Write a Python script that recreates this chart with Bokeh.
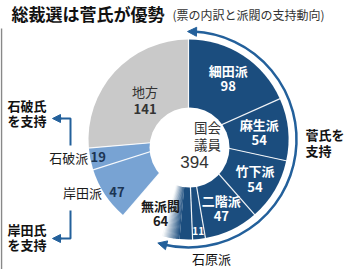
import math
from bokeh.plotting import figure
from bokeh.models import Range1d, Arrow, NormalHead
from bokeh.core.properties import value
from bokeh.embed import file_html
from bokeh.resources import INLINE

# ---------------- data ----------------
factions = ["細田派", "麻生派", "竹下派", "二階派", "石原派", "無派閥", "岸田派", "石破派", "地方"]
votes = [98, 54, 54, 47, 11, 64, 47, 19, 141]
support = ["菅", "菅", "菅", "菅", "菅", "無派閥", "岸田", "石破", "地方"]
center_label = ["国会", "議員"]
center_value = 394
title = "総裁選は菅氏が優勢"
subtitle = "(票の内訳と派閥の支持動向)"
suga_note = ["菅氏を", "支持"]
ishiba_note = ["石破氏", "を支持"]
kishida_note = ["岸田氏", "を支持"]
ishihara_note = "石原派"
mu_suga_share = 0.29   # estimated share of the 無派閥 slice shaded as Suga support

# ---------------- style / layout ----------------
W, H = 350, 269
CX, CY = 188, H - 139
R_OUT = 100
R_IN = 40
IN_CX, IN_CY = 189, H - 147
R_ARC = 108
DARK = "#1b4d7e"
LIGHT = "#78a3d3"
GRAY = "#c9c9c9"
ARROWC = "#23609b"
FONT = value("Noto Sans CJK JP")
color_of = {"菅": DARK, "無派閥": "#ffffff", "岸田": LIGHT, "石破": LIGHT, "地方": GRAY}

total = sum(votes)
spans = []
acc = 0.0
for v in votes:
    d = v / total * 360.0
    spans.append((acc, acc + d))
    acc += d


def pt(t, r, cx=CX, cy=CY):
    a = math.radians(t)
    return cx + r * math.sin(a), cy + r * math.cos(a)


def ang(t):
    return math.radians(90.0 - t)


p = figure(width=W, height=H, x_range=Range1d(0, W), y_range=Range1d(0, H),
           output_backend="svg", toolbar_location=None, min_border=0,
           x_axis_location=None, y_axis_location=None)
p.xgrid.visible = False
p.ygrid.visible = False
p.outline_line_color = None
p.background_fill_color = "white"
p.border_fill_color = "white"

# main slices
p.wedge(x=[CX] * len(votes), y=[CY] * len(votes), radius=R_OUT,
        start_angle=[ang(t1) for t0, t1 in spans],
        end_angle=[ang(t0) for t0, t1 in spans],
        direction="anticlock",
        fill_color=[color_of[s] for s in support], line_color=None)

# 無派閥: part shaded dark with soft gradient edge
mi = factions.index("無派閥")
m0, m1 = spans[mi]
ts = m0 + mu_suga_share * (m1 - m0)
band = 5.0
p.wedge(x=CX, y=CY, radius=R_OUT, start_angle=ang(ts - band), end_angle=ang(m0),
        direction="anticlock", fill_color=DARK, line_color=None)
steps = 16
dr, dg, db = int(DARK[1:3], 16), int(DARK[3:5], 16), int(DARK[5:7], 16)
gs, ge, gc = [], [], []
for i in range(steps):
    a0 = ts - band + 2 * band * i / steps
    a1 = ts - band + 2 * band * (i + 1) / steps + 0.3
    f = (i + 0.5) / steps
    gc.append("#%02x%02x%02x" % (int(dr + (255 - dr) * f), int(dg + (255 - dg) * f), int(db + (255 - db) * f)))
    gs.append(ang(a1))
    ge.append(ang(a0))
p.wedge(x=[CX] * steps, y=[CY] * steps, radius=R_OUT, start_angle=gs, end_angle=ge,
        direction="anticlock", fill_color=gc, line_color=None)

# separators
bx0, by0, bx1, by1 = [], [], [], []
for t0, t1 in spans:
    x1, y1 = pt(t0, R_OUT + 1)
    bx0.append(CX); by0.append(CY); bx1.append(x1); by1.append(y1)
p.segment(x0=bx0, y0=by0, x1=bx1, y1=by1, line_color="white", line_width=1.2, line_alpha=0.9)

# inner circle
p.circle(x=[IN_CX], y=[IN_CY], radius=R_IN, fill_color="white", line_color=None)

# center text
p.text(x=[IN_CX + 18, IN_CX + 18], y=[H - 126, H - 143], text=center_label,
       text_align="center", text_baseline="middle", text_font=FONT,
       text_font_size="13.5px", text_color="#333333")
p.text(x=[IN_CX + 5], y=[H - 161], text=[str(center_value)], text_align="center",
       text_baseline="middle", text_font=value("Liberation Sans"), text_font_size="17px",
       text_color="#333333")

# slice labels
mid = [(a + b) / 2 for a, b in spans]
in_slice = {"細田派": 73, "麻生派": 71, "竹下派": 77, "二階派": 76}
for name, r in in_slice.items():
    i = factions.index(name)
    x, y = pt(mid[i], r)
    p.text(x=[x, x], y=[y + 8, y - 8], text=[name, str(votes[i])], text_align="center",
           text_baseline="middle", text_font=FONT, text_font_size="13px",
           text_font_style="bold", text_color="white")
i = factions.index("石原派")
x, y = pt(mid[i], 92)
p.text(x=[x], y=[y], text=[str(votes[i])], text_align="center", text_baseline="middle",
       text_font=FONT, text_font_size="10px", text_font_style="bold", text_color="white")
i = factions.index("無派閥")
x, y = pt(mid[i] + 1.5, 79)
p.text(x=[x, x], y=[y + 8, y - 8], text=[factions[i], str(votes[i])], text_align="center",
       text_baseline="middle", text_font=FONT, text_font_size="13px",
       text_font_style="bold", text_color="#1a1a1a")
i = factions.index("地方")
x, y = pt(mid[i], 59)
p.text(x=[x], y=[y + 8], text=[factions[i]], text_align="center", text_baseline="middle",
       text_font=FONT, text_font_size="13px", text_color="#333333")
p.text(x=[x], y=[y - 9], text=[str(votes[i])], text_align="center", text_baseline="middle",
       text_font=FONT, text_font_size="13px", text_font_style="bold", text_color="#333333")
for name, r, dt, gap in (("岸田派", 89, -3.0, 15), ("石破派", 92, 0.0, 10)):
    i = factions.index(name)
    x, y = pt(mid[i] + dt, r)
    p.text(x=[x], y=[y], text=[str(votes[i])], text_align="center", text_baseline="middle",
           text_font=FONT, text_font_size="13px", text_font_style="bold", text_color="#1c3553")
    p.text(x=[x - gap], y=[y], text=[name], text_align="right", text_baseline="middle",
           text_font=FONT, text_font_size="13px", text_color="#1a1a1a")

# Suga support arc with arrowheads
s_start, s_end = 2.5, 193.5
p.arc(x=CX, y=CY, radius=R_ARC, start_angle=ang(s_end), end_angle=ang(s_start),
      direction="anticlock", line_color=ARROWC, line_width=2.5)
for ta, tb in ((4.0, -0.5), (192.0, 196.5)):
    xa, ya = pt(ta, R_ARC)
    xb, yb = pt(tb, R_ARC)
    p.add_layout(Arrow(x_start=xa, y_start=ya, x_end=xb, y_end=yb, line_width=0,
                       line_color=ARROWC,
                       end=NormalHead(size=9, fill_color=ARROWC, line_color=ARROWC)))

# left bracket arrows
for xs, ys in (([70, 70, 60], [H - 145, H - 118, H - 118]),
               ([70, 70, 60], [H - 210, H - 238, H - 238])):
    p.line(x=xs, y=ys, line_color=ARROWC, line_width=2)
    p.add_layout(Arrow(x_start=61, y_start=ys[2], x_end=52, y_end=ys[2], line_width=2,
                       line_color=ARROWC,
                       end=NormalHead(size=8, fill_color=ARROWC, line_color=ARROWC)))

# notes
p.text(x=[7, 7], y=[H - 105, H - 120], text=ishiba_note, text_align="left", text_baseline="middle",
       text_font=FONT, text_font_size="13px", text_font_style="bold", text_color="#111111")
p.text(x=[7, 7], y=[H - 229, H - 244], text=kishida_note, text_align="left", text_baseline="middle",
       text_font=FONT, text_font_size="13px", text_font_style="bold", text_color="#111111")
p.text(x=[305, 305], y=[H - 134, H - 150], text=suga_note, text_align="left", text_baseline="middle",
       text_font=FONT, text_font_size="13px", text_font_style="bold", text_color="#111111")
p.text(x=[211], y=[H - 258], text=[ishihara_note], text_align="center", text_baseline="middle",
       text_font=FONT, text_font_size="13px", text_color="#111111")

# title
p.text(x=[11], y=[H - 13], text=[title], text_align="left", text_baseline="middle",
       text_font=FONT, text_font_size="17px", text_font_style="bold", text_color="#111111")
p.text(x=[172], y=[H - 14], text=[subtitle], text_align="left", text_baseline="middle",
       text_font=FONT, text_font_size="12px", text_color="#333333")

# left frame edge
p.line(x=[1, 1], y=[0, H - 28], line_color="#888888", line_width=1.5)

open("out.html", "w").write(file_html(p, INLINE))
